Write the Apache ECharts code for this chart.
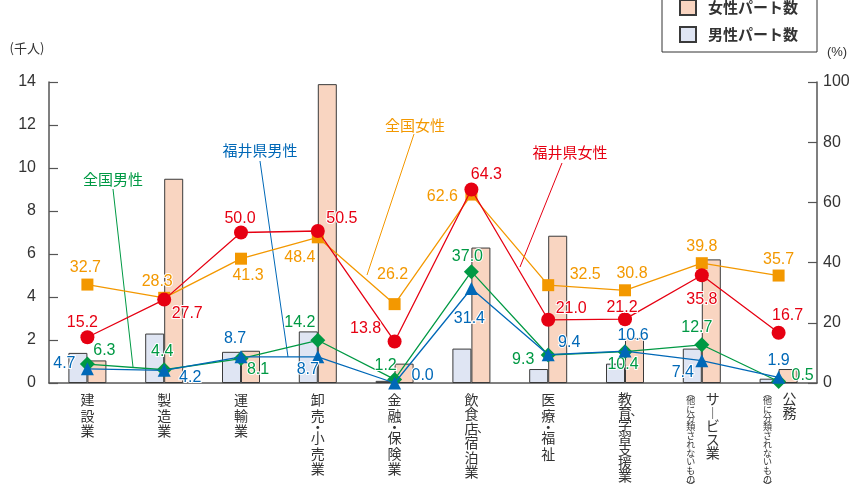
<!DOCTYPE html>
<html><head><meta charset="utf-8">
<script src="https://cdn.jsdelivr.net/npm/echarts@6/dist/echarts.min.js"></script>
<style>html,body{margin:0;padding:0;background:#fff}#c{width:866px;height:495px}</style>
</head><body><div id="c"></div>
<script>
// ---- data ----
const categories = ['建設業','製造業','運輸業','卸売・小売業','金融・保険業','飲食店、宿泊業','医療・福祉','教育、学習支援業','サービス業（他に分類されないもの）','公務（他に分類されないもの）'];
const maleParttime   = [1.4, 2.3, 1.45, 2.4, 0.1, 1.6, 0.65, 0.9, 1.6, 0.2];
const femaleParttime = [1.05, 9.5, 1.5, 13.9, 0.9, 6.3, 6.85, 2.1, 5.75, 0.65];
const fukuiFemale    = [15.2, 27.7, 50.0, 50.5, 13.8, 64.3, 21.0, 21.2, 35.8, 16.7];
const nationalFemale = [32.7, 28.3, 41.3, 48.4, 26.2, 62.6, 32.5, 30.8, 39.8, 35.7];
const nationalMale   = [6.3, 4.4, 8.1, 14.2, 1.2, 37.0, 9.3, 10.4, 12.7, 0.5];
const fukuiMale      = [4.7, 4.2, 8.7, 8.7, 0.0, 31.4, 9.4, 10.6, 7.4, 1.9];
const leftAxis  = {min:0, max:14, interval:2};
const rightAxis = {min:0, max:100, interval:20};

// ---- label placement (styling only) ----
const offRed    = [[-5,-15],[23,14],[-1,-14],[24,-12],[-29,-13],[15,-15],[23,-11],[-3,-12],[0,24],[9,-17]];
const offOrange = [[-2,-17],[-7,-16],[7,17],[-18,20],[-2,-30],[-29,2],[37,-11],[7,-17],[0,-17],[0,-16]];
const offGreen  = [[17,-13],[-2,-18],[17,11],[-18,-18],[-9,-14],[-4,-15],[-25,5],[-2,13],[-5,-17],[24,-6]];
const offBlue   = [[-23,-5],[26,7],[-6,-18],[-10,13],[28,-7],[-2,30],[21,-12],[8,-16],[-19,12],[0,-17]];
const catStyleKey = ['m','m','m','m','m','n','m','t','s','s'];

const NUMFONT = 'Liberation Sans, Arial, sans-serif';
const JPFONT = 'Noto Sans CJK JP, sans-serif';

function lineSeries(name, values, color, symbol, size, offsets, z) {
  return {
    type:'line', name, yAxisIndex:1, z, symbol, symbolSize:size,
    data: values.map((v,i)=>({value:v, label:{offset:offsets[i]}})),
    lineStyle:{color, width:1.3}, itemStyle:{color},
    label:{show:true, position:'inside', color, fontSize:16, fontFamily:NUMFONT,
      textBorderColor:'#fff', textBorderWidth:2,
      formatter:p=>Number(p.value).toFixed(1)},
    animation:false
  };
}

function splitCat(c){ const i=c.indexOf('（'); return i<0?[c,'']:[c.slice(0,i), c.slice(i+1,c.length-1)]; }
function mainFmt(c, idx){
  const [m,p]=splitCat(c);
  const key = catStyleKey[idx] || 'm';
  const lines = [];
  m.split('').forEach(ch=>{
    if(ch==='・') lines.push('{d|・}');
    else if(ch==='、') lines[lines.length-1] = '{z| }' + lines[lines.length-1] + '{c|、}';
    else if(ch==='ー') lines.push('{'+key+'|︱}');
    else lines.push('{'+key+'|'+ch+'}');
  });
  return lines.join('\n');
}
function parenFmt(c){
  const [m,p]=splitCat(c);
  if(!p) return '';
  return ['{q|︵}'].concat(p.split('').map(ch=>'{p|'+ch+'}')).concat(['{q|︶}']).join('\n');
}
const tc='#333';
const richMain = {
  m:{fontSize:14, lineHeight:15.5, color:tc, fontFamily:JPFONT},
  n:{fontSize:14, lineHeight:14.5, color:tc, fontFamily:JPFONT},
  t:{fontSize:14, lineHeight:12.8, color:tc, fontFamily:JPFONT},
  s:{fontSize:14, lineHeight:13.5, color:tc, fontFamily:JPFONT, padding:[0,0,0,22]},
  d:{fontSize:14, lineHeight:7, color:tc, fontFamily:JPFONT},
  z:{fontSize:12, width:9, color:tc, fontFamily:JPFONT},
  c:{fontSize:12, width:9, color:tc, fontFamily:JPFONT}
};
const richParen = {
  p:{fontSize:9, lineHeight:8.8, color:tc, fontFamily:JPFONT, padding:[0,22,0,0]},
  q:{fontSize:9, lineHeight:4, color:tc, fontFamily:JPFONT, padding:[0,22,0,0]}
};

const chart = echarts.init(document.getElementById('c'), null, {renderer:'canvas'});
chart.setOption({
  animation:false,
  backgroundColor:'#fff',
  grid:{left:49, right:49, top:82, bottom:112, containLabel:false, outerBoundsMode:'none'},
  legend:{
    orient:'vertical', left:662, top:-11, icon:'rect',
    data:['女性パート数','男性パート数'],
    itemWidth:16, itemHeight:15, itemGap:10,
    padding:[10,19,9,17], borderColor:'#333', borderWidth:1, backgroundColor:'#fff',
    textStyle:{fontSize:15, color:'#333', fontFamily:JPFONT, fontWeight:'bold', padding:[0,0,0,7]}
  },
  xAxis:[{
    type:'category', data:categories, position:'bottom',
    axisLine:{lineStyle:{color:'#555', width:1.5}}, axisTick:{show:false},
    axisLabel:{interval:0, margin:9, verticalAlign:'top', formatter:mainFmt, rich:richMain}
  },{
    type:'category', data:categories, position:'bottom', gridIndex:0,
    axisLine:{show:false}, axisTick:{show:false},
    axisLabel:{interval:0, margin:9, verticalAlign:'top', formatter:parenFmt, rich:richParen}
  }],
  yAxis:[{
    type:'value', min:leftAxis.min, max:leftAxis.max, interval:leftAxis.interval, position:'left',
    axisLine:{show:true, lineStyle:{color:'#555', width:1.5}},
    axisTick:{show:true, inside:true, length:9, lineStyle:{color:'#555', width:1.2}},
    axisLabel:{fontSize:16, color:'#333', margin:13, fontFamily:NUMFONT},
    splitLine:{show:false}
  },{
    type:'value', min:rightAxis.min, max:rightAxis.max, interval:rightAxis.interval, position:'right',
    axisLine:{show:true, lineStyle:{color:'#555', width:1.5}},
    axisTick:{show:true, inside:true, length:9, lineStyle:{color:'#555', width:1.2}},
    axisLabel:{fontSize:16, color:'#333', margin:6, fontFamily:NUMFONT},
    splitLine:{show:false}
  }],
  series:[
    {type:'bar', name:'男性パート数', data:maleParttime, barWidth:19, barGap:'0%',
     itemStyle:{color:'#dfe5f3', borderColor:'#3a3a3a', borderWidth:1}},
    {type:'bar', name:'女性パート数', data:femaleParttime, barWidth:19, barGap:'0%',
     itemStyle:{color:'#f9d5c1', borderColor:'#3a3a3a', borderWidth:1}},
    lineSeries('全国女性', nationalFemale, '#f39800', 'rect', 12, offOrange, 3),
    lineSeries('福井県女性', fukuiFemale, '#e60012', 'circle', 14, offRed, 4),
    lineSeries('全国男性', nationalMale, '#009944', 'diamond', 15, offGreen, 5),
    lineSeries('福井県男性', fukuiMale, '#0068b7', 'triangle', 13, offBlue, 6)
  ],
  graphic:[
    {type:'text', x:27, y:48, style:{text:'(千人)', fill:'#333', fontSize:13, fontFamily:JPFONT, align:'center', verticalAlign:'middle'}},
    {type:'text', x:837, y:52, style:{text:'(%)', fill:'#333', fontSize:13, fontFamily:NUMFONT, align:'center', verticalAlign:'middle'}},
    {type:'line', shape:{x1:113,y1:189,x2:133,y2:367}, style:{stroke:'#009944', lineWidth:1}, z:2},
    {type:'text', x:113, y:179, style:{text:'全国男性', fill:'#009944', fontSize:15, fontFamily:JPFONT, align:'center', verticalAlign:'middle'}},
    {type:'line', shape:{x1:260,y1:161,x2:288,y2:357}, style:{stroke:'#0068b7', lineWidth:1}, z:2},
    {type:'text', x:260, y:150, style:{text:'福井県男性', fill:'#0068b7', fontSize:15, fontFamily:JPFONT, align:'center', verticalAlign:'middle'}},
    {type:'line', shape:{x1:414,y1:134,x2:367,y2:275}, style:{stroke:'#f39800', lineWidth:1}, z:2},
    {type:'text', x:415, y:125, style:{text:'全国女性', fill:'#f39800', fontSize:15, fontFamily:JPFONT, align:'center', verticalAlign:'middle'}},
    {type:'line', shape:{x1:562,y1:163,x2:520,y2:267}, style:{stroke:'#e60012', lineWidth:1}, z:2},
    {type:'text', x:570, y:152, style:{text:'福井県女性', fill:'#e60012', fontSize:15, fontFamily:JPFONT, align:'center', verticalAlign:'middle'}}
  ]
});
</script></body></html>
